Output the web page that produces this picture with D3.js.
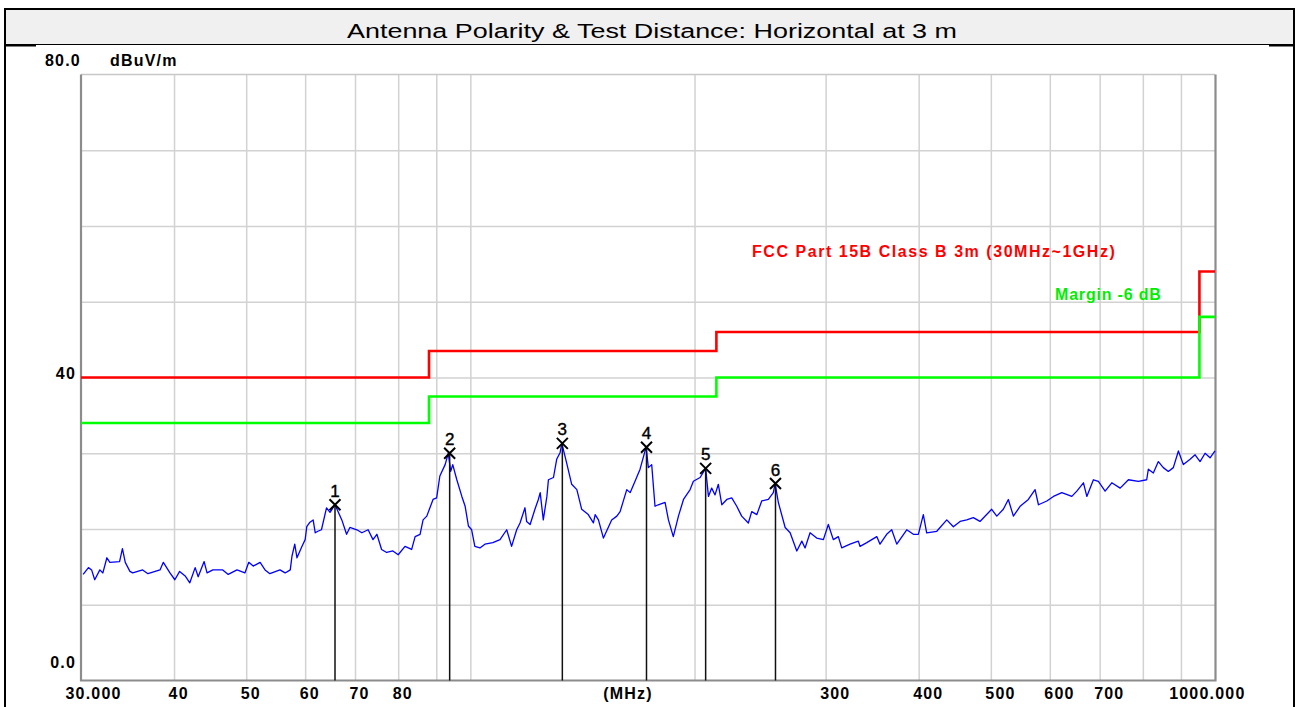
<!DOCTYPE html>
<html>
<head>
<meta charset="utf-8">
<script src="https://cdn.jsdelivr.net/npm/d3@7"></script>
<style>
    html, body { margin: 0; padding: 0; background: #fff; }
    svg { display: block; }
    .lbl { font-family: "Liberation Sans", Arial, sans-serif; font-weight: bold; font-size: 16px; letter-spacing: 1.2px; fill: #000; }
</style>
</head>
<body>
<svg width="1295" height="707"></svg>
<script>
// ---- Dados
const titleText = 'Antenna Polarity & Test Distance: Horizontal at 3 m';

const traceFreq = [
    30.2, 30.7, 31.0, 31.3, 31.8, 32.1, 32.5, 32.8, 33.8, 34.1, 34.4, 34.9, 35.2, 36.3, 36.9, 38.3, 38.7, 39.5,
    40.1, 40.7, 41.4, 42.0, 42.7, 43.1, 43.9, 44.3, 45.1, 46.5, 47.3, 48.6, 49.8, 50.4, 51.1, 52.2, 53.0, 53.8,
    55.5, 56.4, 57.3, 57.6, 58.1, 58.5, 59.4, 60.0, 60.3, 60.9, 61.5, 61.9, 62.4, 63.1, 64.1, 64.8, 65.8, 67.2,
    68.2, 68.9, 70.4, 71.5, 72.9, 74.0, 74.9, 76.0, 77.2, 78.7, 80.0, 81.7, 83.4, 84.3, 85.6, 86.4, 87.4, 89.1,
    90.1, 91.0, 92.5, 93.4, 94.1, 94.7, 95.9, 97.4, 98.4, 99.4, 100.4, 101.4, 103.0, 104.6, 107.2, 109.6, 111.9,
    113.6, 115.4, 116.6, 118.4, 119.0, 120.3, 122.1, 123.4, 124.1, 125.3, 126.7, 127.3, 129.3, 130.6, 132.0,
    132.7, 134.7, 136.8, 139.0, 141.1, 144.0, 146.3, 147.1, 148.6, 150.9, 154.8, 157.3, 158.9, 162.2, 163.9,
    166.4, 169.0, 172.2, 173.4, 175.2, 177.0, 178.8, 182.6, 184.5, 187.3, 190.3, 193.3, 197.3, 199.3, 203.5,
    207.0, 208.8, 210.9, 213.1, 215.3, 217.6, 221.0, 224.4, 227.9, 231.4, 236.2, 238.7, 242.5, 246.2, 251.3,
    255.2, 256.6, 259.2, 264.7, 268.8, 274.4, 278.7, 281.5, 285.9, 291.8, 297.9, 302.5, 307.2, 312.0, 315.3,
    323.5, 331.9, 333.7, 340.7, 351.4, 354.9, 362.3, 368.0, 373.8, 385.5, 393.5, 399.6, 405.8, 410.0, 423.0,
    436.3, 445.3, 454.6, 464.1, 473.6, 483.5, 501.3, 509.3, 519.7, 527.8, 536.1, 547.4, 561.5, 573.3, 579.3,
    594.5, 606.8, 622.7, 642.3, 652.3, 665.8, 672.8, 686.6, 697.3, 711.9, 726.8, 745.8, 765.1, 789.1, 809.6,
    813.8, 826.4, 839.3, 852.3, 865.6, 879.1, 893.0, 906.8, 925.9, 940.3, 954.9, 969.8, 984.8, 1000.0
];

const traceLevel = [
    14.0, 14.9, 14.6, 13.3, 14.6, 14.2, 16.2, 15.6, 15.7, 17.4, 15.6, 14.4, 14.2, 14.6, 14.1, 14.6, 15.6, 14.2,
    13.3, 14.4, 13.8, 12.9, 14.9, 13.7, 15.7, 14.2, 14.6, 14.6, 14.0, 14.6, 14.2, 15.6, 15.1, 15.6, 14.6, 14.1,
    14.6, 14.2, 14.6, 16.4, 18.0, 16.2, 17.7, 18.6, 20.3, 20.9, 21.2, 19.5, 19.7, 19.9, 22.8, 22.2, 23.2, 21.2,
    19.3, 20.2, 19.9, 19.5, 19.9, 18.6, 19.3, 17.3, 16.9, 17.1, 16.6, 17.7, 17.3, 19.0, 19.3, 21.2, 21.7, 23.9,
    24.1, 27.0, 28.5, 30.0, 27.6, 28.5, 26.5, 24.3, 23.0, 20.4, 19.9, 17.7, 17.5, 18.0, 18.2, 18.6, 19.9,
    17.7, 19.9, 20.8, 22.8, 21.0, 20.6, 22.6, 23.9, 24.8, 21.2, 24.3, 26.5, 26.8, 29.2, 30.1,
    31.3, 28.7, 25.9, 25.2, 22.6, 21.9, 20.8, 21.9, 21.2, 18.8, 21.2, 21.7, 22.3, 25.2, 24.8,
    26.3, 27.9, 30.8, 28.1, 28.5, 23.0, 23.2, 23.5, 21.2, 19.0, 21.7, 23.9, 25.2, 26.3, 26.8,
    28.0, 24.3, 25.4, 24.5, 25.9, 23.2, 23.9, 24.1, 23.0, 21.7, 20.8, 22.3, 21.9, 23.7, 23.9,
    24.8, 26.0, 23.5, 20.2, 19.5, 17.1, 18.4, 17.5, 19.5, 18.8, 18.6, 20.6, 18.6, 19.0, 17.5,
    18.0, 18.4, 17.7, 18.2, 19.0, 18.0, 19.3, 19.9, 18.0, 19.9, 19.3, 19.3, 21.9, 19.5, 19.7,
    21.2, 20.3, 21.0, 21.2, 21.5, 21.0, 22.6, 21.7, 22.6, 23.9, 21.7, 23.0, 23.9, 25.2, 23.2,
    23.7, 24.3, 24.8, 24.3, 25.0, 26.1, 24.3, 26.5, 26.3, 25.0, 26.1, 25.4, 26.5, 26.3, 26.5,
    27.9, 27.4, 28.9, 28.1, 27.6, 28.1, 30.3, 28.5, 29.2, 29.8, 28.9, 30.0, 29.4, 30.3
];

// Limite FCC Part 15B Classe B 3m e margem de -6 dB
const limitFreq   = [30, 88, 88, 214, 214, 953, 953, 1000];
const limitLevel  = [40, 40, 43.5, 43.5, 46, 46, 54, 54];
const marginLevel = [34, 34, 37.5, 37.5, 40, 40, 48, 48];

// Marcadores de pico
const markerLabel = ['1', '2', '3', '4', '5', '6'];
const markerFreq  = [65.8, 93.8, 132.9, 172.4, 207.0, 256.9];
const markerLevel = [23.2, 30.0, 31.3, 30.8, 28.0, 26.0];

// Eixos
const gridFreq    = [40, 50, 60, 70, 80, 90, 100, 200, 300, 400, 500, 600, 700, 800, 900];
const xTickValues = [30, 40, 50, 60, 70, 80, 300, 400, 500, 600, 700, 1000];
const xTickLabels = ['30.000', '40', '50', '60', '70', '80', '300', '400', '500', '600', '700', '1000.000'];
const gridLevel   = [10, 20, 30, 40, 50, 60, 70];

const svg = d3.select('svg');
const svgWidth = 1295;

const plot = { left: 81, right: 1215, top: 74.5, bottom: 680.5 };

const mapX = d3.scaleLog().domain([30, 1000]).range([plot.left, plot.right]);
const mapY = d3.scaleLinear().domain([0, 80]).range([plot.bottom, plot.top]);

// ---- Moldura / barra de título
svg.append('rect')
    .attr('x', 5).attr('y', 8).attr('width', 1289).attr('height', 36)
    .attr('fill', '#f0f0f0');

svg.append('text')
    .attr('x', 347)
    .attr('y', 38)
    .attr('textLength', 610)
    .attr('lengthAdjust', 'spacingAndGlyphs')
    .attr('font-family', '"Liberation Sans", Arial, sans-serif')
    .attr('font-size', '20px')
    .attr('fill', '#000')
    .text(titleText);

const frame = svg.append('g').attr('stroke', '#000').attr('fill', 'none');
frame.append('line').attr('x1', 5).attr('x2', 5).attr('y1', 8).attr('y2', 707).attr('stroke-width', 2);
frame.append('line').attr('x1', 1294).attr('x2', 1294).attr('y1', 8).attr('y2', 707).attr('stroke-width', 2);
frame.append('line').attr('x1', 4).attr('x2', 1295).attr('y1', 9).attr('y2', 9).attr('stroke-width', 2);
frame.append('line').attr('x1', 5).attr('x2', 1294).attr('y1', 44.5).attr('y2', 44.5).attr('stroke-width', 1);
frame.append('line').attr('x1', 5).attr('x2', 36).attr('y1', 45.5).attr('y2', 45.5).attr('stroke-width', 2);
frame.append('line').attr('x1', 1269).attr('x2', 1294).attr('y1', 45.5).attr('y2', 45.5).attr('stroke-width', 2);

// ---- Grade
const gridX = svg.append('g')
    .attr('id', 'gridX')
    .attr('transform', `translate(0, ${plot.bottom})`)
    .call(d3.axisBottom(mapX).tickValues(gridFreq).tickSize(-(plot.bottom - plot.top)).tickFormat(''));
gridX.select('.domain').remove();
gridX.selectAll('line').attr('stroke', '#d2d2d2').attr('stroke-width', 1.5);

const gridY = svg.append('g')
    .attr('id', 'gridY')
    .attr('transform', `translate(${plot.left}, 0)`)
    .call(d3.axisLeft(mapY).tickValues(gridLevel).tickSize(-(plot.right - plot.left)).tickFormat(''));
gridY.select('.domain').remove();
gridY.selectAll('line').attr('stroke', '#d2d2d2').attr('stroke-width', 1.5);

// borda da área do gráfico
svg.append('line')
    .attr('x1', plot.left).attr('x2', plot.right).attr('y1', plot.top).attr('y2', plot.top)
    .attr('stroke', '#c8c8c8').attr('stroke-width', 1.5);
svg.append('path')
    .attr('d', `M${plot.left},${plot.top} V${plot.bottom} H${plot.right + 0.5} V${plot.top}`)
    .attr('fill', 'none')
    .attr('stroke', '#8c8c8c')
    .attr('stroke-width', 2.2);

// ---- Rótulos dos eixos
const xLabels = svg.append('g')
    .attr('id', 'axisX')
    .attr('transform', `translate(0, ${plot.bottom})`)
    .call(d3.axisBottom(mapX).tickValues(xTickValues).tickSize(0)
        .tickFormat(d => xTickLabels[xTickValues.indexOf(d)]));
xLabels.select('.domain').remove();
xLabels.selectAll('text')
    .attr('class', 'lbl')
    .attr('y', 18.5)
    .attr('dy', 0)
    .attr('text-anchor', (d, i) => i === xTickValues.length - 1 ? 'end' : 'start')
    .attr('dx', (d, i) => i === 0 ? -16 : (i === xTickValues.length - 1 ? 30 : -6))
    .attr('font-family', null).attr('font-size', null).attr('fill', null);

svg.append('text')
    .attr('class', 'lbl')
    .attr('x', 628)
    .attr('y', plot.bottom + 18.5)
    .attr('text-anchor', 'middle')
    .text('(MHz)');

svg.append('text').attr('class', 'lbl')
    .attr('x', 45).attr('y', mapY(80) - 9).text('80.0');
svg.append('text').attr('class', 'lbl')
    .attr('x', 110).attr('y', mapY(80) - 9).text('dBuV/m');
svg.append('text').attr('class', 'lbl')
    .attr('x', 76).attr('y', mapY(40) + 1).attr('text-anchor', 'end').text('40');
svg.append('text').attr('class', 'lbl')
    .attr('x', 76).attr('y', mapY(0) - 12.5).attr('text-anchor', 'end').text('0.0');

// ---- Linhas de limite
const stepLine = d3.line()
    .x(d => mapX(d[0]))
    .y(d => mapY(d[1]));

svg.append('path')
    .datum(limitFreq.map((f, i) => [f, limitLevel[i]]))
    .attr('d', stepLine)
    .attr('fill', 'none')
    .attr('stroke', '#ff0000')
    .attr('stroke-width', 2.6);

svg.append('path')
    .datum(limitFreq.map((f, i) => [f, marginLevel[i]]))
    .attr('d', stepLine)
    .attr('fill', 'none')
    .attr('stroke', '#00ff00')
    .attr('stroke-width', 2.6);

svg.append('text')
    .attr('class', 'lbl')
    .attr('x', 752).attr('y', 257)
    .attr('textLength', 364)
    .attr('fill', '#ff0000')
    .style('fill', '#ff0000')
    .text('FCC Part 15B Class B 3m (30MHz~1GHz)');

svg.append('text')
    .attr('class', 'lbl')
    .attr('x', 1055).attr('y', 300)
    .attr('textLength', 107)
    .style('fill', '#00ee00')
    .text('Margin -6 dB');

// ---- Traço medido
svg.append('path')
    .datum(traceFreq.map((f, i) => [f, traceLevel[i]]))
    .attr('d', stepLine)
    .attr('fill', 'none')
    .attr('stroke', '#0000ff')
    .attr('stroke-width', 1.3)
    .attr('stroke-linejoin', 'round');

// ---- Marcadores
const markers = svg.append('g').attr('id', 'markers')
    .selectAll('g')
    .data(markerLabel.map((m, i) => ({ label: m, f: markerFreq[i], v: markerLevel[i] })))
    .join('g')
    .attr('transform', d => `translate(${mapX(d.f)}, ${mapY(d.v)})`);

markers.append('line')
    .attr('x1', 0).attr('x2', 0)
    .attr('y1', 0)
    .attr('y2', d => mapY(0) - mapY(d.v))
    .attr('stroke', '#111')
    .attr('stroke-width', 1.5);

markers.append('path')
    .attr('d', 'M-5.5,-5.5 L5.5,5.5 M5.5,-5.5 L-5.5,5.5')
    .attr('stroke', '#000')
    .attr('stroke-width', 2)
    .attr('fill', 'none');

markers.append('text')
    .attr('x', 0)
    .attr('y', -8)
    .attr('text-anchor', 'middle')
    .attr('font-family', '"Liberation Sans", Arial, sans-serif')
    .attr('font-size', '17px')
    .attr('fill', '#000')
    .attr('stroke', '#000')
    .attr('stroke-width', 0.4)
    .text(d => d.label);
</script>
</body>
</html>
